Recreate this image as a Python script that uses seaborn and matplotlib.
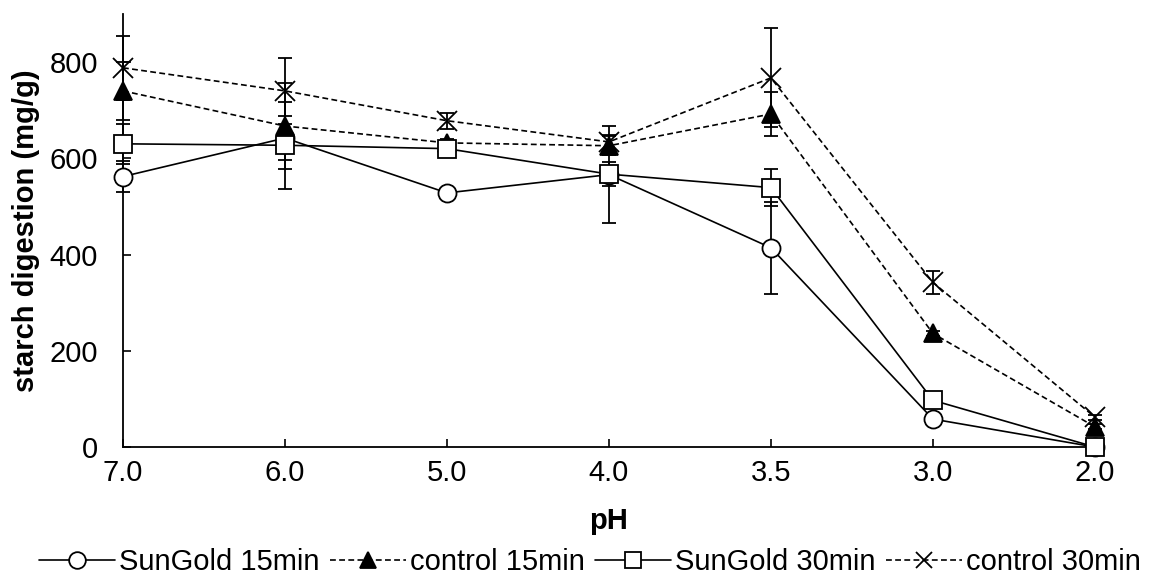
import numpy as np
import pandas as pd
import matplotlib
matplotlib.use("Agg")
import matplotlib.pyplot as plt
import seaborn as sns

ph_labels = ["7.0", "6.0", "5.0", "4.0", "3.5", "3.0", "2.0"]

sungold15 = [562, 642, 528, 566, 414, 58, 0]
sungold15_err = [32, 45, 10, 100, 96, 10, 5]
control15 = [740, 667, 632, 626, 692, 236, 42]
control15_err = [60, 90, 8, 20, 46, 6, 5]
sungold30 = [630, 627, 620, 567, 539, 97, 0]
sungold30_err = [42, 90, 10, 25, 38, 14, 5]
control30 = [788, 740, 678, 634, 767, 342, 62]
control30_err = [67, 68, 17, 15, 103, 24, 5]

series_names = ["SunGold 15min", "control 15min", "SunGold 30min", "control 30min"]

sns.set_theme(style="white")
plt.rcParams['font.family'] = ['Liberation Sans', 'DejaVu Sans']
plt.rcParams['text.color'] = 'black'
plt.rcParams['axes.labelcolor'] = 'black'
plt.rcParams['xtick.color'] = 'black'
plt.rcParams['ytick.color'] = 'black'

FS = 21

fig = plt.figure(figsize=(11.57, 5.79), dpi=100)
ax = fig.add_axes([0.1063, 0.228, 0.84, 0.748])

xpos = np.arange(len(ph_labels))
specs = [
    (sungold15, sungold15_err, dict(marker="o", markerfacecolor="white", linestyle="-")),
    (control15, control15_err, dict(marker="^", markerfacecolor="black", linestyle="--")),
    (sungold30, sungold30_err, dict(marker="s", markerfacecolor="white", linestyle="-")),
    (control30, control30_err, dict(marker="x", markerfacecolor="black", linestyle="--")),
]

handles = []
for name, (vals, errs, st) in zip(series_names, specs):
    df = pd.DataFrame({"x": xpos, "y": vals})
    ax.errorbar(xpos, vals, yerr=errs, fmt="none", ecolor="black", elinewidth=1.3,
                capsize=5, capthick=1.3, clip_on=False, zorder=2)
    sns.lineplot(data=df, x="x", y="y", ax=ax, color="black", linewidth=1.2,
                 marker=st["marker"], markersize=13 if st["marker"] != "x" else 14,
                 markerfacecolor=st["markerfacecolor"], markeredgecolor="black",
                 markeredgewidth=1.3, linestyle=st["linestyle"], dashes=False,
                 clip_on=False, zorder=3)
    line = ax.get_lines()[-1]
    if st["linestyle"] == "--":
        line.set_dashes([3.5, 2])
    handles.append(line)

ax.set_xlim(0, 6)
ax.set_ylim(0, 900)
ax.set_yticks([0, 200, 400, 600, 800])
ax.set_xticks(xpos)
ax.set_xticklabels(ph_labels)
ax.tick_params(axis="both", direction="in", length=6, width=1.2, labelsize=FS,
               colors="black", left=True, bottom=True)
ax.tick_params(axis="y", pad=18)
ax.tick_params(axis="x", pad=9)
for s in ["top", "right"]:
    ax.spines[s].set_visible(False)
for s in ["left", "bottom"]:
    ax.spines[s].set_color("black")
    ax.spines[s].set_linewidth(1.3)

ax.set_xlabel("pH", fontsize=FS, fontweight="bold", labelpad=14, color="black")
ax.set_ylabel("starch digestion (mg/g)", fontsize=FS, fontweight="bold", color="black")
ax.yaxis.set_label_coords(-0.085, 0.5)

leg = fig.legend(handles, series_names, loc="lower center", bbox_to_anchor=(0.51, -0.025),
                 ncol=4, frameon=False, fontsize=FS, handlelength=2.6,
                 columnspacing=0.35, handletextpad=0.15, borderaxespad=0.2,
                 labelcolor="black")
for h in leg.legend_handles:
    h.set_markersize(12)

fig.savefig("out.png", dpi=100)
